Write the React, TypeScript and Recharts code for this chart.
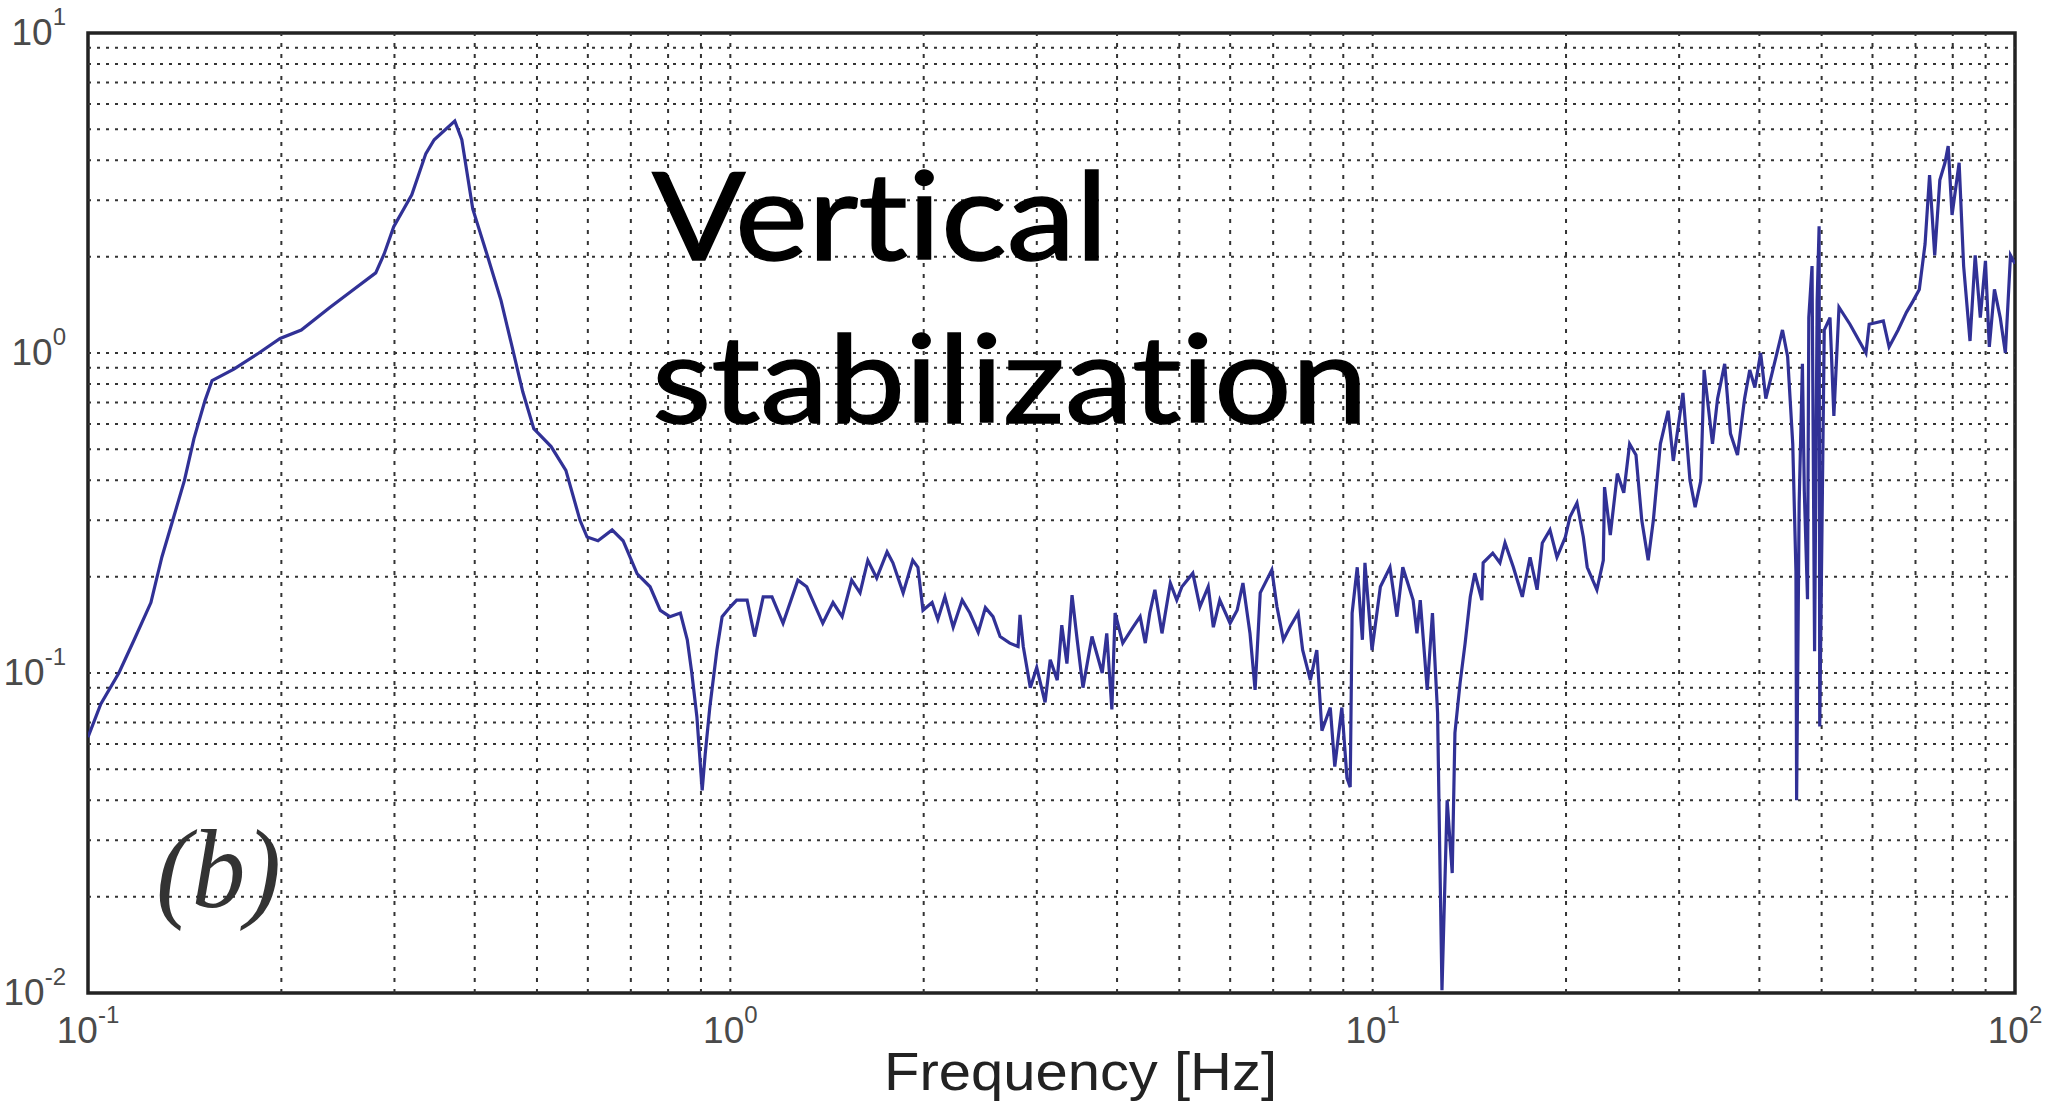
import React from 'react';
import { LineChart, Line, XAxis, YAxis, ReferenceLine, ReferenceArea } from 'recharts';

// frequency [Hz]
const freq = [
  0.1, 0.1047, 0.1117, 0.118, 0.1253, 0.1303, 0.1355, 0.1413, 0.1462, 0.1521, 0.156, 0.1687, 0.1845, 0.1991,
  0.2148, 0.2382, 0.257, 0.2805, 0.2891, 0.2992, 0.3192, 0.3357, 0.3459, 0.3724, 0.3819, 0.3972, 0.4178, 0.4395,
  0.4571, 0.4753, 0.4943, 0.526, 0.5546, 0.5834, 0.5984, 0.6223, 0.6546, 0.6808, 0.7161,
  0.75, 0.778, 0.805, 0.836, 0.857, 0.871, 0.887, 0.904, 0.914, 0.929, 0.953, 0.971,
  1.0, 1.023, 1.062, 1.091, 1.125, 1.161, 1.208, 1.274, 1.315, 1.393, 1.445, 1.493, 1.545, 1.592, 1.637, 1.69,
  1.754, 1.791, 1.858, 1.923, 1.959, 1.995, 2.061, 2.104, 2.158, 2.223, 2.296, 2.36, 2.432, 2.495, 2.564, 2.63,
  2.723, 2.805, 2.825, 2.858, 2.931, 2.999, 3.09, 3.148, 3.228, 3.281, 3.342, 3.404, 3.467, 3.54, 3.656, 3.793,
  3.855, 3.926, 3.972, 4.083, 4.236, 4.345, 4.426, 4.498, 4.581, 4.699, 4.842, 4.955, 5.047, 5.248, 5.383,
  5.546, 5.649, 5.781, 5.998, 6.152, 6.281, 6.442, 6.561, 6.683, 6.966, 7.096, 7.261, 7.43, 7.656, 7.78, 7.998,
  8.185, 8.337, 8.59, 8.73, 8.954, 9.12, 9.226, 9.29, 9.462, 9.638, 9.727, 9.977,
  10.28, 10.64, 10.91, 11.14, 11.56, 11.72, 11.86, 12.16, 12.39, 12.62, 12.71, 12.82, 13.06, 13.3, 13.43, 13.68,
  13.93, 14.19, 14.42, 14.79, 14.86, 15.38, 15.78, 16.07, 16.56, 17.1, 17.58, 18.03, 18.37, 18.88, 19.36, 19.95,
  20.28, 20.8, 21.28, 21.58, 22.34, 22.86, 22.96, 23.44, 24.04, 24.6, 25.12, 25.7, 26.24, 26.85, 27.35, 28.05,
  28.84, 29.38, 30.41, 31.19, 31.77, 32.43, 32.81, 33.81, 34.43, 35.32, 36.06, 36.98, 37.93, 38.64, 39.36, 40.18,
  40.93, 41.98, 43.45, 44.26, 45.08, 45.6, 45.71, 46.13, 46.67, 46.99, 47.53, 47.75, 48.31, 48.75, 49.2, 49.55,
  49.66, 50.47, 51.52, 52.24, 53.21, 55.34, 58.61, 59.29, 62.37, 63.68, 65.77, 67.76, 69.34, 70.96, 72.44, 73.62,
  74.99, 76.38, 77.8, 78.7, 79.8, 81.85, 83.18, 85.11, 86.7, 88.31, 89.95, 91.2, 92.9, 94.84, 96.61, 98.4, 100,
];

// magnitude
const amp = [
  0.063, 0.08, 0.1, 0.127, 0.166, 0.23, 0.3, 0.4, 0.54, 0.71, 0.82, 0.89, 1.0, 1.11,
  1.18, 1.39, 1.56, 1.78, 2.04, 2.48, 3.12, 4.2, 4.64, 5.31, 4.64, 2.82, 2.04, 1.46,
  1.05, 0.755, 0.58, 0.51, 0.43, 0.3, 0.266, 0.259, 0.28, 0.259, 0.204,
  0.186, 0.157, 0.15, 0.154, 0.127, 0.1, 0.073, 0.043, 0.056, 0.078, 0.118, 0.15,
  0.161, 0.169, 0.169, 0.13, 0.173, 0.173, 0.143, 0.195, 0.186, 0.143, 0.166, 0.15, 0.195, 0.178, 0.225, 0.198,
  0.239, 0.221, 0.178, 0.225, 0.214, 0.157, 0.166, 0.147, 0.173, 0.139, 0.169, 0.154, 0.134, 0.16, 0.15, 0.13,
  0.124, 0.121, 0.152, 0.121, 0.09, 0.104, 0.081, 0.11, 0.095, 0.141, 0.107, 0.175, 0.127, 0.09, 0.13, 0.1,
  0.133, 0.077, 0.154, 0.124, 0.139, 0.15, 0.124, 0.154, 0.182, 0.133, 0.191, 0.169, 0.186, 0.205, 0.161,
  0.186, 0.139, 0.169, 0.143, 0.157, 0.191, 0.133, 0.0885, 0.178, 0.21, 0.161, 0.127, 0.139, 0.154, 0.118, 0.095,
  0.118, 0.066, 0.078, 0.051, 0.078, 0.047, 0.044, 0.154, 0.214, 0.127, 0.221, 0.118,
  0.186, 0.214, 0.15, 0.214, 0.169, 0.133, 0.169, 0.0885, 0.154, 0.075, 0.03, 0.0102, 0.04, 0.0237, 0.065, 0.093,
  0.124, 0.173, 0.205, 0.169, 0.221, 0.237, 0.221, 0.255, 0.214, 0.173, 0.23, 0.182, 0.255, 0.28, 0.23, 0.266,
  0.307, 0.34, 0.266, 0.214, 0.182, 0.225, 0.381, 0.27, 0.42, 0.366, 0.52, 0.48, 0.3, 0.225, 0.3, 0.52,
  0.66, 0.46, 0.75, 0.4, 0.33, 0.4, 0.885, 0.52, 0.72, 0.925, 0.56, 0.48, 0.72, 0.885, 0.78, 1.0,
  0.72, 0.885, 1.18, 0.975, 0.52, 0.208, 0.04, 0.34, 0.925, 0.37, 0.17, 1.29, 1.87, 0.117, 1.45, 2.49,
  0.068, 1.18, 1.29, 0.636, 1.39, 1.23, 1.0, 1.23, 1.26, 1.045, 1.18, 1.34, 1.45, 1.58, 2.19, 3.6,
  2.02, 3.47, 3.93, 4.43, 2.7, 3.93, 1.87, 1.09, 2.02, 1.29, 1.94, 1.045, 1.58, 1.29, 1.0, 2.02, 1.9,
];

const xTicks = [0.1, 1, 10, 100];
const yTicks = [0.01, 0.1, 1, 10];
const xGrid = [0.2, 0.3, 0.4, 0.5, 0.6, 0.7, 0.8, 0.9, 1, 2, 3, 4, 5, 6, 7, 8, 9, 10, 20, 30, 40, 50, 60, 70, 80, 90];
const yGrid = [0.02, 0.03, 0.04, 0.05, 0.06, 0.07, 0.08, 0.09, 0.1, 0.2, 0.3, 0.4, 0.5, 0.6, 0.7, 0.8, 0.9, 1, 2, 3, 4, 5, 6, 7, 8, 9];

const data = freq.map((f, i) => ({ f, v: amp[i] }));

const gridColor = '#333';
const tickFont = "'Liberation Sans', Arial, sans-serif";

function XTick(props: any) {
  const { x, y, payload } = props;
  const exp = Math.round(Math.log10(payload.value));
  return (
    <text x={x} y={y + 50} textAnchor="middle" fill="#4a4a4a" fontFamily={tickFont}>
      <tspan fontSize={37}>10</tspan>
      <tspan fontSize={24} dy={-20}>{exp}</tspan>
    </text>
  );
}

function YTick(props: any) {
  const { x, y, payload } = props;
  const exp = Math.round(Math.log10(payload.value));
  return (
    <text x={x - 22} y={y + 12} textAnchor="end" fill="#4a4a4a" fontFamily={tickFont}>
      <tspan fontSize={37}>10</tspan>
      <tspan fontSize={24} dy={-20}>{exp}</tspan>
    </text>
  );
}

const titleStyle: React.CSSProperties = { fontVariantLigatures: 'none', fontFeatureSettings: '"liga" 0, "clig" 0' };

export default function App() {
  return (
    <div style={{ position: 'absolute', left: 0, top: 0, width: 2056, height: 1107, background: '#fff' }}>
      <LineChart width={2056} height={1107} data={data} margin={{ top: 33, right: 41, bottom: 0, left: 0 }}>
        <XAxis
          dataKey="f"
          type="number"
          scale="log"
          domain={[0.1, 100]}
          ticks={xTicks}
          allowDataOverflow
          height={114}
          tickLine={false}
          axisLine={false}
          tickSize={0}
          tickMargin={0}
          tick={<XTick />}
        />
        <YAxis
          type="number"
          scale="log"
          domain={[0.01, 10]}
          ticks={yTicks}
          allowDataOverflow
          width={88}
          tickLine={false}
          axisLine={false}
          tickSize={0}
          tickMargin={0}
          tick={<YTick />}
        />
        {xGrid.map((g) => (
          <ReferenceLine key={'x' + g} x={g} stroke={gridColor} strokeWidth={2} strokeDasharray="4 7" />
        ))}
        {yGrid.map((g) => (
          <ReferenceLine key={'y' + g} y={g} stroke={gridColor} strokeWidth={2} strokeDasharray="3 6" />
        ))}
        <Line
          type="linear"
          dataKey="v"
          stroke="#313196"
          strokeWidth={3.2}
          dot={false}
          isAnimationActive={false}
        />
        <ReferenceArea x1={0.1} x2={100} y1={0.01} y2={10} fill="none" fillOpacity={0} stroke="#222" strokeWidth={3.5} />
      </LineChart>
      <svg width={2056} height={1107} style={{ position: 'absolute', left: 0, top: 0, pointerEvents: 'none' }}>
        <text x={652} y={260} textLength={456} lengthAdjust="spacingAndGlyphs" fontFamily="Lato, 'DejaVu Sans', sans-serif" fontSize={122} fill="#000" stroke="#000" strokeWidth={1.4} style={titleStyle}>
          Vertical
        </text>
        <text x={652} y={423} textLength={716} lengthAdjust="spacingAndGlyphs" fontFamily="Lato, 'DejaVu Sans', sans-serif" fontSize={122} fill="#000" stroke="#000" strokeWidth={1.4} style={titleStyle}>
          stabilization
        </text>
        <text x={156} y={907} textLength={125} lengthAdjust="spacingAndGlyphs" fontFamily="'Liberation Serif', serif" fontStyle="italic" fontSize={112} fill="#333">
          (b)
        </text>
        <text x={884} y={1090} textLength={393} lengthAdjust="spacingAndGlyphs" fontFamily="'Liberation Sans', Arial, sans-serif" fontSize={54} fill="#222">
          Frequency [Hz]
        </text>
      </svg>
    </div>
  );
}
